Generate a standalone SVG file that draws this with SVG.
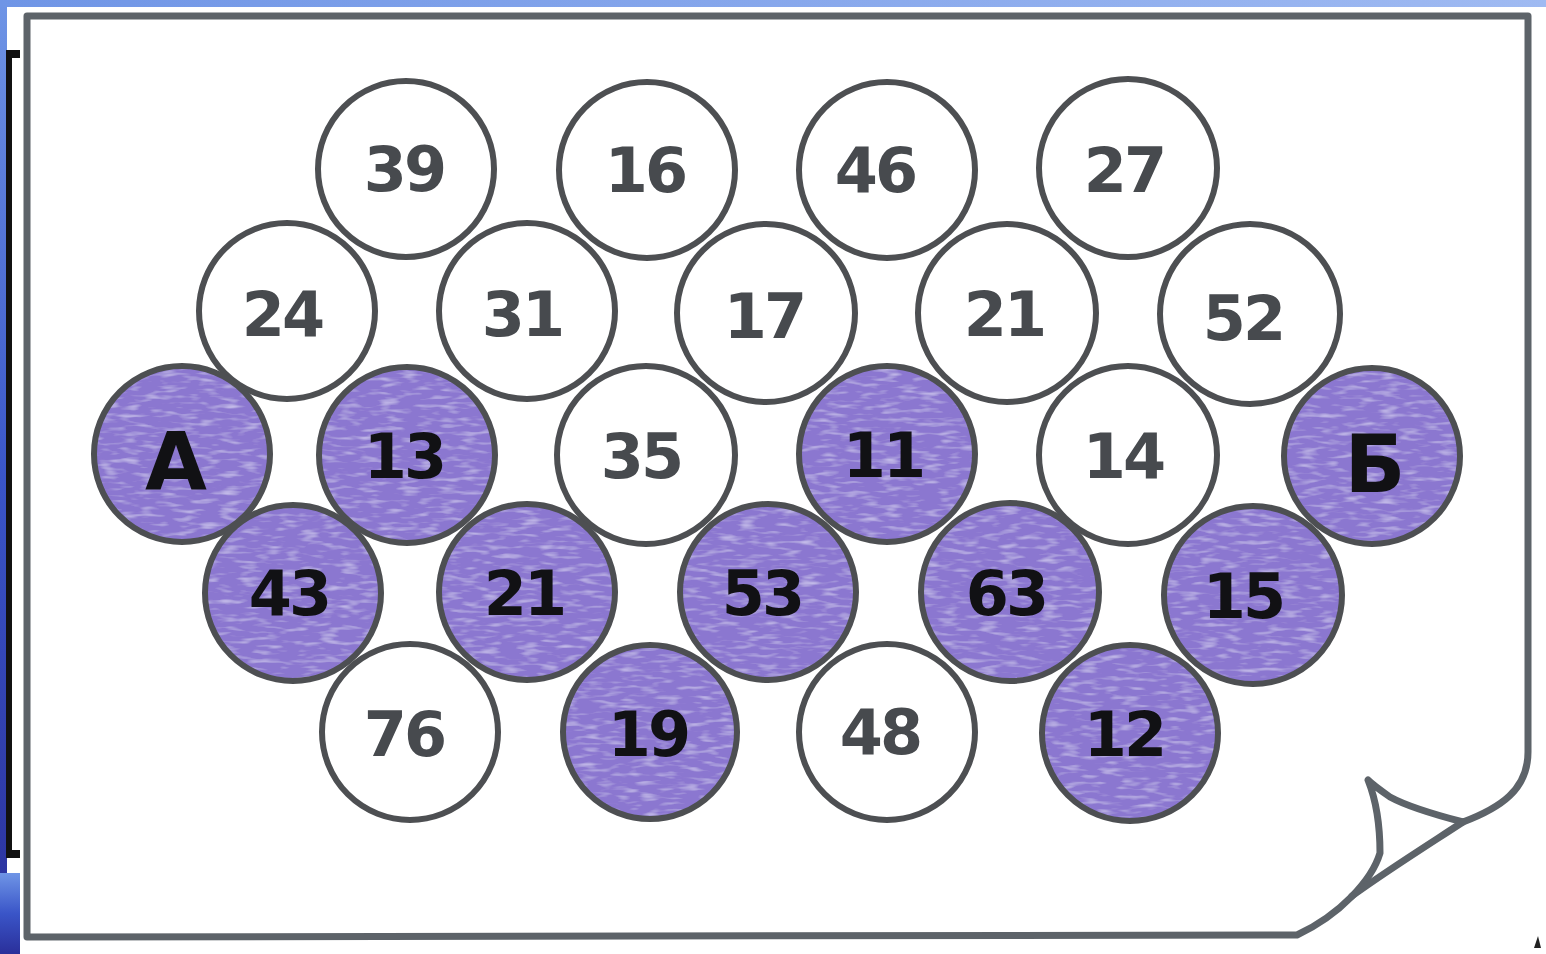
<svg xmlns="http://www.w3.org/2000/svg" width="1546" height="954" viewBox="0 0 1546 954">
<defs>
<linearGradient id="bgL" x1="0" y1="0" x2="0" y2="1">
<stop offset="0" stop-color="#6f95e6"/>
<stop offset="0.5" stop-color="#3a55c8"/>
<stop offset="1" stop-color="#2a2f9a"/>
</linearGradient>
<linearGradient id="bgT" x1="0" y1="0" x2="1" y2="0">
<stop offset="0" stop-color="#6f95e6"/>
<stop offset="1" stop-color="#9fbaf2"/>
</linearGradient>
<filter id="crayon" x="-5%" y="-5%" width="110%" height="110%">
<feTurbulence type="fractalNoise" baseFrequency="0.05 0.22" numOctaves="2" seed="3" result="n"/>
<feColorMatrix in="n" type="matrix" values="0 0 0 0 0.85  0 0 0 0 0.82  0 0 0 0 1  0 0 0 1.2 -0.6" result="w"/>
<feComposite in="w" in2="SourceGraphic" operator="in" result="wm"/>
<feMerge><feMergeNode in="SourceGraphic"/><feMergeNode in="wm"/></feMerge>
</filter>
</defs>
<style>
.ring{fill:none;stroke:#4d4f52;stroke-width:6;}
.w{fill:#ffffff;}
.p{fill:#8b77d0;}
.num{font-family:"DejaVu Sans","Liberation Sans",sans-serif;font-weight:bold;font-size:62px;text-anchor:middle;letter-spacing:-3px;}
.nw{fill:#474a4e;}
.np{fill:#111114;}
.let{font-family:"DejaVu Sans","Liberation Sans",sans-serif;font-weight:bold;font-size:80px;text-anchor:middle;fill:#111114;}
.paper{fill:none;stroke:#5d6369;stroke-width:7;stroke-linejoin:round;stroke-linecap:round;}
</style>
<!-- background -->
<rect x="0" y="0" width="1546" height="954" fill="#ffffff"/>
<rect x="0" y="0" width="7" height="954" fill="url(#bgL)"/>
<rect x="0" y="873" width="20" height="81" fill="url(#bgL)"/>
<rect x="0" y="0" width="1546" height="7" fill="url(#bgT)"/>
<rect x="6" y="50" width="14" height="8" fill="#111"/>
<rect x="6" y="50" width="6" height="808" fill="#111"/>
<rect x="6" y="850" width="14" height="8" fill="#111"/>
<path d="M1534,948 L1538,936 L1541,948 Z" fill="#222"/>
<!-- paper -->
<g id="paper">
<path d="M27,16 L1528,16 L1528,752 C1528,790 1500,808 1463,822 C1440,816 1410,808 1390,797 C1380,790 1372,784 1368,780 C1376,800 1380,825 1380,853 C1372,880 1340,915 1297,935 L27,937 Z" fill="#ffffff"/>
<path class="paper" d="M27,16 L1528,16 L1528,752 C1528,790 1500,808 1463,822 C1440,816 1410,808 1390,797 C1380,790 1372,784 1368,780 C1376,800 1380,825 1380,853 C1372,880 1340,915 1297,935 L27,937 Z"/>
<path class="paper" d="M1463,822 C1420,850 1385,872 1352,896"/>
</g>
<g id="connectors"></g>
<!-- row 1 -->
<g id="n-39"><circle class="w" cx="406" cy="169" r="88"/><circle class="ring" cx="406" cy="169" r="88"/><text class="num nw" x="404" y="191">39</text></g>
<g id="n-16"><circle class="w" cx="647" cy="170" r="88"/><circle class="ring" cx="647" cy="170" r="88"/><text class="num nw" x="645" y="192">16</text></g>
<g id="n-46"><circle class="w" cx="887" cy="170" r="88"/><circle class="ring" cx="887" cy="170" r="88"/><text class="num nw" x="875" y="192">46</text></g>
<g id="n-27"><circle class="w" cx="1128" cy="168" r="89"/><circle class="ring" cx="1128" cy="168" r="89"/><text class="num nw" x="1124" y="192">27</text></g>
<!-- row 2 -->
<g id="n-24"><circle class="w" cx="287" cy="311" r="88"/><circle class="ring" cx="287" cy="311" r="88"/><text class="num nw" x="282" y="336">24</text></g>
<g id="n-31"><circle class="w" cx="527" cy="311" r="88"/><circle class="ring" cx="527" cy="311" r="88"/><text class="num nw" x="522" y="336">31</text></g>
<g id="n-17"><circle class="w" cx="766" cy="313" r="89"/><circle class="ring" cx="766" cy="313" r="89"/><text class="num nw" x="764" y="338">17</text></g>
<g id="n-21a"><circle class="w" cx="1007" cy="313" r="89"/><circle class="ring" cx="1007" cy="313" r="89"/><text class="num nw" x="1004" y="336">21</text></g>
<g id="n-52"><circle class="w" cx="1250" cy="314" r="90"/><circle class="ring" cx="1250" cy="314" r="90"/><text class="num nw" x="1243" y="340">52</text></g>
<!-- row 3 -->
<g id="n-A"><circle class="p" filter="url(#crayon)" cx="182" cy="454" r="88"/><circle class="ring" cx="182" cy="454" r="88"/><text class="let" x="176" y="490">А</text></g>
<g id="n-13"><circle class="p" filter="url(#crayon)" cx="407" cy="455" r="88"/><circle class="ring" cx="407" cy="455" r="88"/><text class="num np" x="404" y="478">13</text></g>
<g id="n-35"><circle class="w" cx="646" cy="455" r="89"/><circle class="ring" cx="646" cy="455" r="89"/><text class="num nw" x="641" y="478">35</text></g>
<g id="n-11"><circle class="p" filter="url(#crayon)" cx="887" cy="454" r="88"/><circle class="ring" cx="887" cy="454" r="88"/><text class="num np" x="883" y="477">11</text></g>
<g id="n-14"><circle class="w" cx="1128" cy="455" r="89"/><circle class="ring" cx="1128" cy="455" r="89"/><text class="num nw" x="1123" y="478">14</text></g>
<g id="n-B"><circle class="p" filter="url(#crayon)" cx="1372" cy="456" r="88"/><circle class="ring" cx="1372" cy="456" r="88"/><text class="let" x="1375" y="492">Б</text></g>
<!-- row 4 -->
<g id="n-43"><circle class="p" filter="url(#crayon)" cx="293" cy="593" r="88"/><circle class="ring" cx="293" cy="593" r="88"/><text class="num np" x="289" y="615">43</text></g>
<g id="n-21b"><circle class="p" filter="url(#crayon)" cx="527" cy="592" r="88"/><circle class="ring" cx="527" cy="592" r="88"/><text class="num np" x="524" y="615">21</text></g>
<g id="n-53"><circle class="p" filter="url(#crayon)" cx="768" cy="592" r="88"/><circle class="ring" cx="768" cy="592" r="88"/><text class="num np" x="762" y="615">53</text></g>
<g id="n-63"><circle class="p" filter="url(#crayon)" cx="1010" cy="592" r="89"/><circle class="ring" cx="1010" cy="592" r="89"/><text class="num np" x="1006" y="615">63</text></g>
<g id="n-15"><circle class="p" filter="url(#crayon)" cx="1253" cy="595" r="89"/><circle class="ring" cx="1253" cy="595" r="89"/><text class="num np" x="1243" y="618">15</text></g>
<!-- row 5 -->
<g id="n-76"><circle class="w" cx="410" cy="732" r="88"/><circle class="ring" cx="410" cy="732" r="88"/><text class="num nw" x="404" y="756">76</text></g>
<g id="n-19"><circle class="p" filter="url(#crayon)" cx="650" cy="732" r="87"/><circle class="ring" cx="650" cy="732" r="87"/><text class="num np" x="648" y="756">19</text></g>
<g id="n-48"><circle class="w" cx="887" cy="732" r="88"/><circle class="ring" cx="887" cy="732" r="88"/><text class="num nw" x="880" y="754">48</text></g>
<g id="n-12"><circle class="p" filter="url(#crayon)" cx="1130" cy="733" r="88"/><circle class="ring" cx="1130" cy="733" r="88"/><text class="num np" x="1124" y="756">12</text></g>
</svg>
